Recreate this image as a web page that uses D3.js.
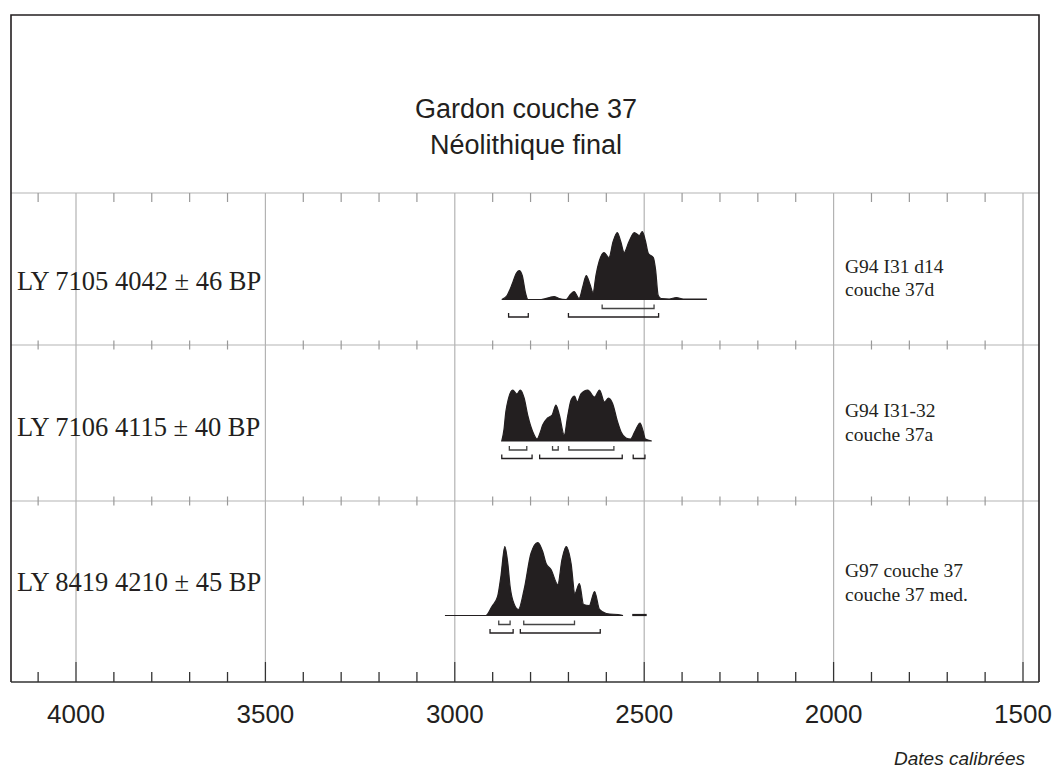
<!DOCTYPE html>
<html>
<head>
<meta charset="utf-8">
<script src="https://cdn.jsdelivr.net/npm/d3@7"></script>
<style>
  body { margin: 0; background: #fff; }
</style>
</head>
<body>
<div id="chart"></div>
<script>
// titres / libellés
const titleLines = ['Gardon couche 37', 'Néolithique final'];
const axisTitle = 'Dates calibrées';
const majorYears = [4000, 3500, 3000, 2500, 2000, 1500];
const labCodes = ['LY 7105 4042 ± 46 BP', 'LY 7106 4115 ± 40 BP', 'LY 8419 4210 ± 45 BP'];
const siteLines = [
    ['G94 I31 d14', 'couche 37d'],
    ['G94 I31-32', 'couche 37a'],
    ['G97 couche 37', 'couche 37 med.']
];

// courbes de probabilité [année cal BC, densité relative]
const density7105 = [
    [2876, 0], [2862, 4], [2848, 16], [2838, 26], [2830, 29], [2822, 24], [2813, 6], [2807, 0],
    [2772, 0], [2750, 2], [2738, 3], [2725, 1], [2706, 0], [2695, 5], [2685, 8], [2672, 1],
    [2662, 13], [2653, 24], [2643, 15], [2635, 7], [2627, 25], [2619, 38], [2606, 47], [2593, 42],
    [2582, 58], [2571, 67], [2562, 58], [2553, 47], [2540, 58], [2526, 67], [2513, 64], [2505, 68],
    [2497, 59], [2489, 46], [2476, 42], [2470, 30], [2463, 4], [2455, 1], [2434, 0.5], [2415, 2],
    [2397, 0.5], [2336, 0.5]
];
const density7106 = [
    [2876, 0], [2870, 12], [2865, 30], [2847, 51], [2836, 47], [2827, 51], [2817, 43], [2807, 25],
    [2794, 9], [2783, 2], [2775, 8], [2768, 16], [2755, 23], [2743, 26], [2733, 36], [2724, 26],
    [2711, 6], [2702, 25], [2693, 41], [2684, 45], [2677, 39], [2667, 47], [2649, 51], [2631, 44],
    [2618, 51], [2605, 39], [2594, 43], [2583, 37], [2571, 20], [2561, 9], [2548, 3], [2536, 2],
    [2524, 10], [2511, 18], [2503, 10], [2497, 2], [2480, 0]
];
const density8419 = [
    [3026, 0], [2918, 0], [2902, 9], [2887, 19], [2878, 40], [2868, 69], [2860, 52], [2854, 29],
    [2844, 12], [2832, 6], [2817, 26], [2799, 62], [2781, 73], [2768, 64], [2759, 52], [2746, 46],
    [2728, 31], [2717, 56], [2706, 69], [2693, 52], [2683, 22], [2671, 32], [2660, 11], [2645, 10],
    [2631, 24], [2618, 6], [2600, 2], [2561, 0.5], [2556, 0]
];
const density8419tail = [[2530, 1], [2495, 1]];

// intervalles 1 sigma / 2 sigma
const sigma1_7105 = [[2611, 2474]];
const sigma2_7105 = [[2858, 2806], [2700, 2462]];
const sigma1_7106 = [[2856, 2810], [2742, 2727], [2699, 2580]];
const sigma2_7106 = [[2876, 2796], [2776, 2558], [2529, 2498]];
const sigma1_8419 = [[2884, 2854], [2818, 2684]];
const sigma2_8419 = [[2907, 2846], [2827, 2616]];

const samples = [
    { code: labCodes[0], site: siteLines[0], curves: [density7105], s1: sigma1_7105, s2: sigma2_7105 },
    { code: labCodes[1], site: siteLines[1], curves: [density7106], s1: sigma1_7106, s2: sigma2_7106 },
    { code: labCodes[2], site: siteLines[2], curves: [density8419, density8419tail], s1: sigma1_8419, s2: sigma2_8419 }
];

// mise en page
const width = 1055, height = 769;
const frame = { left: 11, right: 1039, top: 15, bottom: 682 };
const headerBottom = 193;
const rowLines = [193, 345, 501];
const baselines = [299.5, 441, 615.5];
const codeY = [290, 436, 591];
const siteY = [272.5, 417, 577];
const gridColor = '#b3b3b3';
const ink = '#231f20';

const svg = d3.select('#chart').append('svg')
    .attr('width', width).attr('height', height)
    .style('font-family', 'Liberation Sans, Arial, sans-serif');

const x = d3.scaleLinear().domain([4000, 1500]).range([76, 1023]);
const y = d3.scaleLinear().domain([0, 73]).range([0, 73]);
const minorYears = d3.range(4100, 1400, -100).filter(d => !majorYears.includes(d));

// grille verticale
svg.append('g').selectAll('line')
    .data(majorYears)
    .join('line')
    .attr('x1', d => x(d)).attr('x2', d => x(d))
    .attr('y1', headerBottom).attr('y2', frame.bottom - 20)
    .attr('stroke', gridColor).attr('stroke-width', 1.2);

// lignes horizontales des rangées
svg.append('g').selectAll('line')
    .data(rowLines)
    .join('line')
    .attr('x1', frame.left).attr('x2', frame.right)
    .attr('y1', d => d).attr('y2', d => d)
    .attr('stroke', gridColor).attr('stroke-width', 1.2);

// petites graduations en haut
svg.append('g').selectAll('line')
    .data(minorYears)
    .join('line')
    .attr('x1', d => x(d)).attr('x2', d => x(d))
    .attr('y1', headerBottom).attr('y2', headerBottom + 9)
    .attr('stroke', '#999').attr('stroke-width', 1.2);

// graduations croisées sur les séparateurs
rowLines.slice(1).forEach(ry => {
    svg.append('g').selectAll('line')
        .data(minorYears)
        .join('line')
        .attr('x1', d => x(d)).attr('x2', d => x(d))
        .attr('y1', ry - 4.5).attr('y2', ry + 4.5)
        .attr('stroke', '#999').attr('stroke-width', 1.2);
});

// axe du bas
const xAxis = svg.append('g').attr('class', 'x axis');
xAxis.selectAll('.minor')
    .data(minorYears)
    .join('line')
    .attr('class', 'minor')
    .attr('x1', d => x(d)).attr('x2', d => x(d))
    .attr('y1', frame.bottom - 10).attr('y2', frame.bottom)
    .attr('stroke', '#333').attr('stroke-width', 1.3);
xAxis.selectAll('.major')
    .data(majorYears)
    .join('line')
    .attr('class', 'major')
    .attr('x1', d => x(d)).attr('x2', d => x(d))
    .attr('y1', frame.bottom - 20).attr('y2', frame.bottom)
    .attr('stroke', '#333').attr('stroke-width', 1.3);
xAxis.selectAll('text')
    .data(majorYears)
    .join('text')
    .attr('x', d => x(d)).attr('y', 723)
    .attr('text-anchor', 'middle')
    .style('font-size', '26px').style('fill', ink)
    .text(d => d);

// cadre
svg.append('path')
    .attr('d', `M${frame.left},${frame.bottom}V${frame.top}H${frame.right}V${frame.bottom}`)
    .attr('fill', 'none').attr('stroke', ink).attr('stroke-width', 1.6);
svg.append('line')
    .attr('x1', frame.left).attr('x2', frame.right)
    .attr('y1', frame.bottom).attr('y2', frame.bottom)
    .attr('stroke', '#333').attr('stroke-width', 1.6);

// titre
const title = svg.append('text')
    .attr('text-anchor', 'middle')
    .style('font-size', '27px').style('fill', ink);
title.selectAll('tspan')
    .data(titleLines)
    .join('tspan')
    .attr('x', (frame.left + frame.right) / 2 + 1)
    .attr('y', (d, i) => 118 + i * 36)
    .text(d => d);

// titre de l'axe
svg.append('text')
    .attr('x', 1025).attr('y', 765)
    .attr('text-anchor', 'end')
    .style('font-size', '19px').style('font-style', 'italic').style('fill', ink)
    .text(axisTitle);

// échantillons
samples.forEach((s, i) => {
    const base = baselines[i];
    const area = d3.area()
        .x(d => x(d[0]))
        .y0(base)
        .y1(d => base - y(d[1]))
        .curve(d3.curveMonotoneX);
    const g = svg.append('g').attr('class', 'sample');
    g.selectAll('path.dens')
        .data(s.curves)
        .join('path')
        .attr('class', 'dens')
        .attr('d', area)
        .attr('fill', ink).attr('stroke', ink).attr('stroke-width', 1.2);

    const bracket = (r, yy) => `M${x(r[0])},${yy - 4}V${yy}H${x(r[1])}V${yy - 4}`;
    g.selectAll('path.s1')
        .data(s.s1)
        .join('path')
        .attr('class', 's1')
        .attr('d', d => bracket(d, base + 9))
        .attr('fill', 'none').attr('stroke', '#444').attr('stroke-width', 1.3);
    g.selectAll('path.s2')
        .data(s.s2)
        .join('path')
        .attr('class', 's2')
        .attr('d', d => bracket(d, base + 17.5))
        .attr('fill', 'none').attr('stroke', ink).attr('stroke-width', 1.3);

    g.append('text')
        .attr('x', 17).attr('y', codeY[i])
        .style('font-family', 'Liberation Serif, Times New Roman, serif')
        .style('font-size', '26.5px').style('fill', ink)
        .text(s.code);

    g.append('g').selectAll('text')
        .data(s.site)
        .join('text')
        .attr('x', 845).attr('y', (d, j) => siteY[i] + j * 23.5)
        .style('font-family', 'Liberation Serif, Times New Roman, serif')
        .style('font-size', '19.5px').style('fill', ink)
        .text(d => d);
});
</script>
</body>
</html>
